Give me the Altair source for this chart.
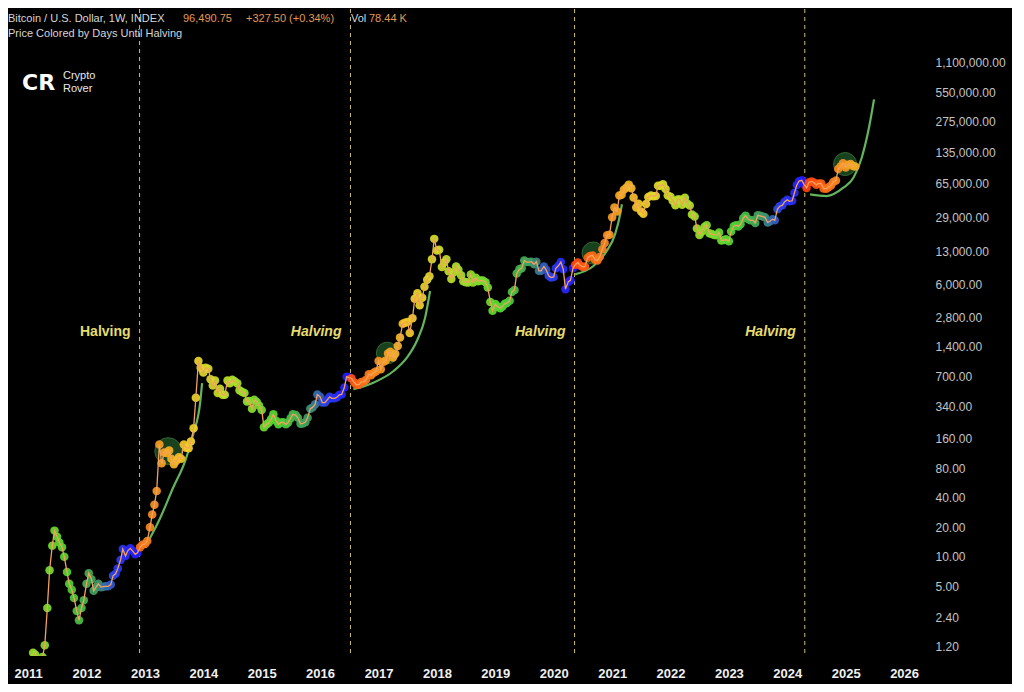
import altair as alt
import pandas as pd

# ---------------- data ----------------
# semi-monthly closes (1st and 15th of each month); 2011 starts in February
p2011 = [1.05, 1.0, 0.9, 0.87, 0.95, 1.25, 3.0, 7.3, 13.0, 18.5, 16.0, 14.0,
         12.5, 10.0, 7.0, 5.3, 4.6, 3.8, 2.8, 2.25, 3.0, 3.6]
p2012 = [5.3, 6.8, 5.9, 4.5, 4.9, 5.3, 4.9, 4.95, 5.0, 5.0, 5.2, 6.4,
         6.7, 7.6, 9.3, 12.0, 10.2, 11.5, 12.2, 11.5, 10.6, 11.0, 12.5, 13.3]
p2013 = [13.5, 14.5, 20, 27, 34, 47, 140, 90, 116, 115, 122, 100,
         88, 95, 104, 100, 140, 130, 128, 150, 205, 420, 1000, 850]
p2014 = [760, 850, 830, 650, 560, 630, 470, 520, 450, 450, 630, 590,
         640, 620, 590, 500, 480, 470, 385, 390, 325, 400, 380, 350]
p2015 = [315, 210, 225, 235, 255, 285, 245, 225, 235, 237, 225, 235,
         260, 285, 280, 262, 228, 230, 237, 262, 325, 335, 360, 455]
p2016 = [430, 375, 375, 400, 430, 415, 415, 425, 450, 455, 535, 690,
         675, 665, 605, 570, 575, 610, 615, 640, 730, 715, 755, 780]
p2017 = [1000, 820, 980, 1010, 1190, 1240, 1080, 1180, 1420, 1730, 2400, 2450,
         2500, 1930, 2730, 4300, 4890, 3700, 4400, 5700, 6750, 7300, 10900, 17600]
p2018 = [13400, 13600, 9100, 10100, 10900, 8200, 6850, 8000, 9200, 8500, 7500, 6500,
         6350, 6300, 7600, 6300, 7050, 6500, 6600, 6600, 6350, 5600, 4000, 3250]
p2019 = [3800, 3600, 3450, 3600, 3820, 3900, 4100, 5050, 5300, 7800, 8600, 8800,
         10600, 10200, 10200, 10300, 9700, 10300, 8300, 8300, 9200, 8500, 7400, 7100]
p2020 = [7200, 8800, 9400, 10200, 8600, 5400, 6400, 6650, 8800, 9600, 10100, 9400,
         9100, 9200, 11300, 11800, 11900, 10800, 10600, 11500, 13800, 16000, 19200, 19400]
p2021 = [29300, 36800, 33500, 48700, 49600, 56000, 59000, 63000, 57800, 46500, 36700, 40200,
         33500, 31800, 39900, 47000, 48800, 48000, 48200, 61500, 61300, 63600, 57000, 48900]
p2022 = [47300, 43100, 38700, 44500, 44400, 39300, 46300, 40500, 38500, 31300, 29800, 22500,
         19300, 20800, 23300, 24300, 20100, 19700, 19300, 19200, 20500, 16900, 17100, 17400]
p2023 = [16600, 20900, 23700, 24300, 23600, 24800, 28500, 30400, 28100, 27200, 27200, 25600,
         30600, 30300, 29700, 29200, 25900, 26600, 27900, 27200, 35400, 37900, 38700, 42000]
p2024 = [44200, 42500, 43100, 51900, 62400, 68400, 69700, 63400, 58300, 66200, 67800, 66200,
         62700, 64800, 64600, 57500, 57300, 59200, 61700, 67000, 69500, 91000, 97200, 104300]
p2025 = [94400, 100500, 102400, 97500, 96490.75]

halving_dates = ["2012-11-28", "2016-07-09", "2020-05-11", "2024-04-20"]
next_halving = "2028-04-17"
halving_label = "Halving"
halving_label_price = 1970

# green support curves
c1_dates = ["2013-01-15", "2013-04-06", "2013-06-25", "2013-09-09", "2013-10-30", "2013-12-13", "2013-12-24"]
c1_prices = [13.8, 24.9, 50.4, 95, 179, 389, 594]
c2_dates = ["2016-07-27", "2016-11-29", "2017-04-05", "2017-06-27", "2017-08-28", "2017-10-19", "2017-11-19"]
c2_prices = [513, 599, 788, 1077, 1595, 2758, 5166]
c3_dates = ["2020-05-14", "2020-09-06", "2020-11-28", "2021-01-19", "2021-02-20", "2021-03-03"]
c3_prices = [7650, 9300, 13225, 19570, 31340, 39660]
c4_dates = ["2024-05-23", "2024-09-04", "2024-12-17", "2025-02-18", "2025-04-11", "2025-05-22", "2025-06-27"]
c4_prices = [50150, 48180, 58560, 74100, 118600, 221800, 467700]

# highlighted circles
circle_dates = ["2013-05-26", "2017-02-24", "2020-09-04", "2024-12-28"]
circle_prices = [120, 1203, 12620, 102200]

ytick_vals = [1.2, 2.4, 5, 10, 20, 40, 80, 160, 340, 700, 1400, 2800, 6000,
              13000, 29000, 65000, 135000, 275000, 550000, 1100000]
year_ticks = list(range(2011, 2027))

# ---------------- tables ----------------
prices = p2011 + p2012 + p2013 + p2014 + p2015 + p2016 + p2017 + p2018 + \
    p2019 + p2020 + p2021 + p2022 + p2023 + p2024 + p2025
dates = pd.date_range("2011-02-01", periods=len(prices), freq="SMS")
halv = pd.to_datetime(halving_dates + [next_halving])
days = [int(min(h for h in halv if h > d).value - d.value) // 86_400_000_000_000 for d in dates]
df = pd.DataFrame({"date": dates.strftime("%Y-%m-%d"), "price": prices, "days": days})

curves = pd.concat([
    pd.DataFrame({"date": c1_dates, "price": c1_prices, "c": 1}),
    pd.DataFrame({"date": c2_dates, "price": c2_prices, "c": 2}),
    pd.DataFrame({"date": c3_dates, "price": c3_prices, "c": 3}),
    pd.DataFrame({"date": c4_dates, "price": c4_prices, "c": 4}),
])
circle_area = [720, 470, 490, 530]  # style: marker areas
circles = pd.DataFrame({"date": circle_dates, "price": circle_prices, "a": circle_area})
hdf = pd.DataFrame({"date": halving_dates, "price": [halving_label_price] * 4,
                    "t": [halving_label] * 4})

# ---------------- encodings ----------------
FONT = "Liberation Sans"
xscale = alt.Scale(domain=[alt.DateTime(year=2010, month=8, date=28),
                           alt.DateTime(year=2026, month=3, date=29)])
yscale = alt.Scale(type="log", domain=[0.971, 3.91e6])

xaxis = alt.Axis(values=[alt.DateTime(year=y, month=1, date=1) for y in year_ticks],
                 format="%Y", labelColor="#f0f0f0", labelFontSize=13,
                 labelFontWeight="bold", labelFont=FONT, labelPadding=11,
                 ticks=False, domain=False, grid=False, labelOverlap=False,
                 labelFlush=False)
yaxis = alt.Axis(orient="right", values=ytick_vals, format=",.2f",
                 labelColor="#c4c4c4", labelFontSize=12, labelFont=FONT,
                 labelPadding=17, ticks=False, domain=False, grid=False,
                 labelOverlap=False)
X = alt.X("date:T", scale=xscale, title=None, axis=xaxis)
Y = alt.Y("price:Q", scale=yscale, title=None, axis=yaxis)

color_scale = alt.Scale(domain=[0, 150, 260, 450, 750, 1000, 1200, 1460],
                        range=["#2418ff", "#2b3ef0", "#3f9a66", "#4fd630",
                               "#b5e02a", "#f2d22a", "#f59a22", "#ff3a10"],
                        interpolate="rgb")

rules = alt.Chart(hdf).mark_rule(color="#cfc070", strokeDash=[4, 4], strokeWidth=1).encode(x=X)

circ = alt.Chart(circles).mark_point(filled=True, shape="circle", color="#1f5226",
                                     opacity=0.8, stroke="#3f7f3f", strokeWidth=1).encode(
    x=X, y=Y, size=alt.Size("a:Q", scale=None, legend=None))

curve = alt.Chart(curves).mark_line(color="#63b45c", strokeWidth=2.2, interpolate="monotone").encode(
    x=X, y=Y, detail="c:N")

dots = alt.Chart(df).mark_circle(size=72, opacity=0.93, clip=True).encode(
    x=X, y=Y, color=alt.Color("days:Q", scale=color_scale, legend=None))

pline = alt.Chart(df).mark_line(color="#f3a25e", strokeWidth=1.3, clip=True).encode(x=X, y=Y)

hl_first = alt.Chart(hdf.iloc[[0]]).mark_text(
    align="right", baseline="middle", dx=-9, fontSize=14, fontWeight="bold",
    font=FONT, color="#e6dc6e").encode(x=X, y=Y, text="t:N")
hl_rest = alt.Chart(hdf.iloc[1:]).mark_text(
    align="right", baseline="middle", dx=-9, fontSize=14, fontWeight="bold",
    fontStyle="italic", font=FONT, color="#e6dc6e").encode(x=X, y=Y, text="t:N")


def label(s, x, y, color, size=11, weight="normal", font=FONT):
    return alt.Chart(pd.DataFrame({"t": [s]})).mark_text(
        align="left", baseline="middle", fontSize=size, fontWeight=weight,
        font=font, color=color).encode(x=alt.value(x), y=alt.value(y), text="t:N")


titles = [
    label("Bitcoin / U.S. Dollar, 1W, INDEX", 0, 10, "#d6d6d6"),
    label("96,490.75", 175, 10, "#e39a55"),
    label("+327.50 (+0.34%)", 238, 10, "#e39a55"),
    label("Vol", 343, 10, "#d6d6d6"),
    label("78.44 K", 361, 10, "#e39a55"),
    label("Price Colored by Days Until Halving", 0, 25, "#d6d6d6"),
    label("CR", 14, 74, "#ffffff", size=22, weight="bold", font="DejaVu Sans"),
    label("Crypto", 55, 67, "#e8e8e8", size=11),
    label("Rover", 55, 80, "#e8e8e8", size=11),
]

chart = alt.layer(rules, circ, curve, dots, pline, hl_first, hl_rest, *titles).properties(
    width=910, height=647, background="#000000",
    padding={"left": 0, "top": 0, "right": 6, "bottom": 4},
).configure_view(stroke=None)

chart.save("out.html", embed_options={"renderer": "svg", "actions": False})
